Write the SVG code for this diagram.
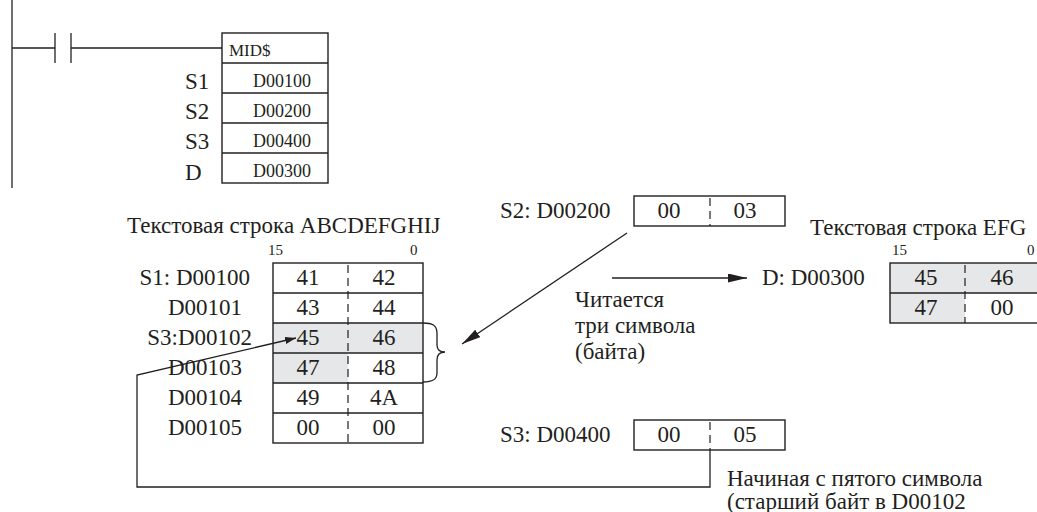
<svg xmlns="http://www.w3.org/2000/svg" width="1037" height="512" viewBox="0 0 1037 512">
<style>
text{font-family:"Liberation Serif","Times New Roman","DejaVu Serif",serif;fill:#231f20;font-size:23px}
.sm{font-size:15px}
.mid{font-size:17px}
.cell{font-size:18px}
.c{text-anchor:middle}
.ln{stroke:#231f20;stroke-width:1.3;fill:none}
.box{stroke:#231f20;stroke-width:1.4;fill:none}
.dash{stroke:#231f20;stroke-width:1.2;stroke-dasharray:8 5;fill:none}
.sh{fill:#e6e7e8}
</style>
<defs>
<marker id="ah" markerWidth="19" markerHeight="9" refX="19" refY="4.5" orient="auto" markerUnits="userSpaceOnUse"><path d="M0,0 L19,4.5 L0,9 z" fill="#231f20"/></marker>
<marker id="ahs" markerWidth="11" markerHeight="7" refX="11" refY="3.5" orient="auto" markerUnits="userSpaceOnUse"><path d="M0,0 L11,3.5 L0,7 z" fill="#231f20"/></marker>
</defs>

<g id="ladder">
<line class="ln" x1="12" y1="0" x2="12" y2="188"/>
<line class="ln" x1="12" y1="48" x2="55" y2="48"/>
<line class="ln" x1="55" y1="33" x2="55" y2="63"/>
<line class="ln" x1="71" y1="33" x2="71" y2="63"/>
<line class="ln" x1="71" y1="48" x2="222" y2="48"/>
</g>

<g id="mid-instr">
<rect class="box" x="222" y="33" width="106" height="150"/>
<line class="ln" x1="222" y1="63" x2="328" y2="63"/>
<line class="ln" x1="222" y1="93" x2="328" y2="93"/>
<line class="ln" x1="222" y1="123" x2="328" y2="123"/>
<line class="ln" x1="222" y1="153" x2="328" y2="153"/>
<text class="mid" x="229" y="56">MID$</text>
<text class="cell c" x="282" y="87">D00100</text>
<text class="cell c" x="282" y="117">D00200</text>
<text class="cell c" x="282" y="147">D00400</text>
<text class="cell c" x="282" y="177">D00300</text>
<text x="185" y="89">S1</text>
<text x="185" y="119">S2</text>
<text x="185" y="149">S3</text>
<text x="185" y="180">D</text>
</g>

<g id="source-table">
<text x="127" y="233">Текстовая строка ABCDEFGHIJ</text>
<text class="sm" x="268" y="255">15</text>
<text class="sm" x="410" y="255">0</text>
<rect class="sh" x="273" y="323" width="150" height="30"/>
<rect class="sh" x="273" y="353" width="75" height="30"/>
<rect class="box" x="273" y="263" width="150" height="180"/>
<line class="ln" x1="273" y1="293" x2="423" y2="293"/>
<line class="ln" x1="273" y1="323" x2="423" y2="323"/>
<line class="ln" x1="273" y1="353" x2="423" y2="353"/>
<line class="ln" x1="273" y1="383" x2="423" y2="383"/>
<line class="ln" x1="273" y1="413" x2="423" y2="413"/>
<line class="dash" x1="348" y1="265" x2="348" y2="443"/>
<text class="c" x="308" y="285">41</text><text class="c" x="384" y="285">42</text>
<text class="c" x="308" y="315">43</text><text class="c" x="384" y="315">44</text>
<text class="c" x="308" y="345">45</text><text class="c" x="384" y="345">46</text>
<text class="c" x="308" y="375">47</text><text class="c" x="384" y="375">48</text>
<text class="c" x="308" y="405">49</text><text class="c" x="384" y="405">4A</text>
<text class="c" x="308" y="435">00</text><text class="c" x="384" y="435">00</text>
<text x="250" y="285" text-anchor="end">S1: D00100</text>
<text x="168" y="315">D00101</text>
<text x="252" y="345" text-anchor="end">S3:D00102</text>
<text x="168" y="375">D00103</text>
<text x="168" y="405">D00104</text>
<text x="168" y="435">D00105</text>
<path class="ln" d="M423,323 C432,323 437,325 437,333 L437,345 C437,350 440,352 445,352 C440,352 437,355 437,360 L437,373 C437,380 432,382 423,382"/>
</g>

<g id="s2-box">
<text x="500" y="218">S2: D00200</text>
<rect class="box" x="634" y="196" width="151" height="30"/>
<line class="dash" x1="710" y1="198" x2="710" y2="226"/>
<text class="c" x="669" y="218">00</text>
<text class="c" x="745" y="218">03</text>
</g>

<g id="s3-box">
<text x="500" y="442">S3: D00400</text>
<rect class="box" x="634" y="420" width="151" height="30"/>
<line class="dash" x1="710" y1="422" x2="710" y2="450"/>
<text class="c" x="669" y="442">00</text>
<text class="c" x="745" y="442">05</text>
</g>

<g id="dest-table">
<text x="810" y="235">Текстовая строка EFG</text>
<text class="sm" x="892" y="255">15</text>
<text class="sm" x="1027" y="255">0</text>
<rect class="sh" x="890" y="263" width="150" height="30"/>
<rect class="sh" x="890" y="293" width="75" height="30"/>
<rect class="box" x="890" y="263" width="150" height="60"/>
<line class="ln" x1="890" y1="293" x2="1040" y2="293"/>
<line class="dash" x1="965" y1="265" x2="965" y2="323"/>
<text class="c" x="926" y="285">45</text><text class="c" x="1002" y="285">46</text>
<text class="c" x="926" y="315">47</text><text class="c" x="1002" y="315">00</text>
<text x="762" y="285">D: D00300</text>
</g>

<g id="notes">
<text x="575" y="307">Читается</text>
<text x="575" y="333">три символа</text>
<text x="575" y="359">(байта)</text>
<text x="727" y="486">Начиная с пятого символа</text>
<text x="727" y="509">(старший байт в D00102</text>
</g>

<g id="connectors">
<line class="ln" x1="627" y1="233" x2="462" y2="344" marker-end="url(#ah)"/>
<line class="ln" x1="612" y1="278" x2="747" y2="278" marker-end="url(#ah)"/>
<polyline class="ln" points="710,450 710,487 137,487 137,375 296,338" marker-end="url(#ahs)"/>
</g>
</svg>
